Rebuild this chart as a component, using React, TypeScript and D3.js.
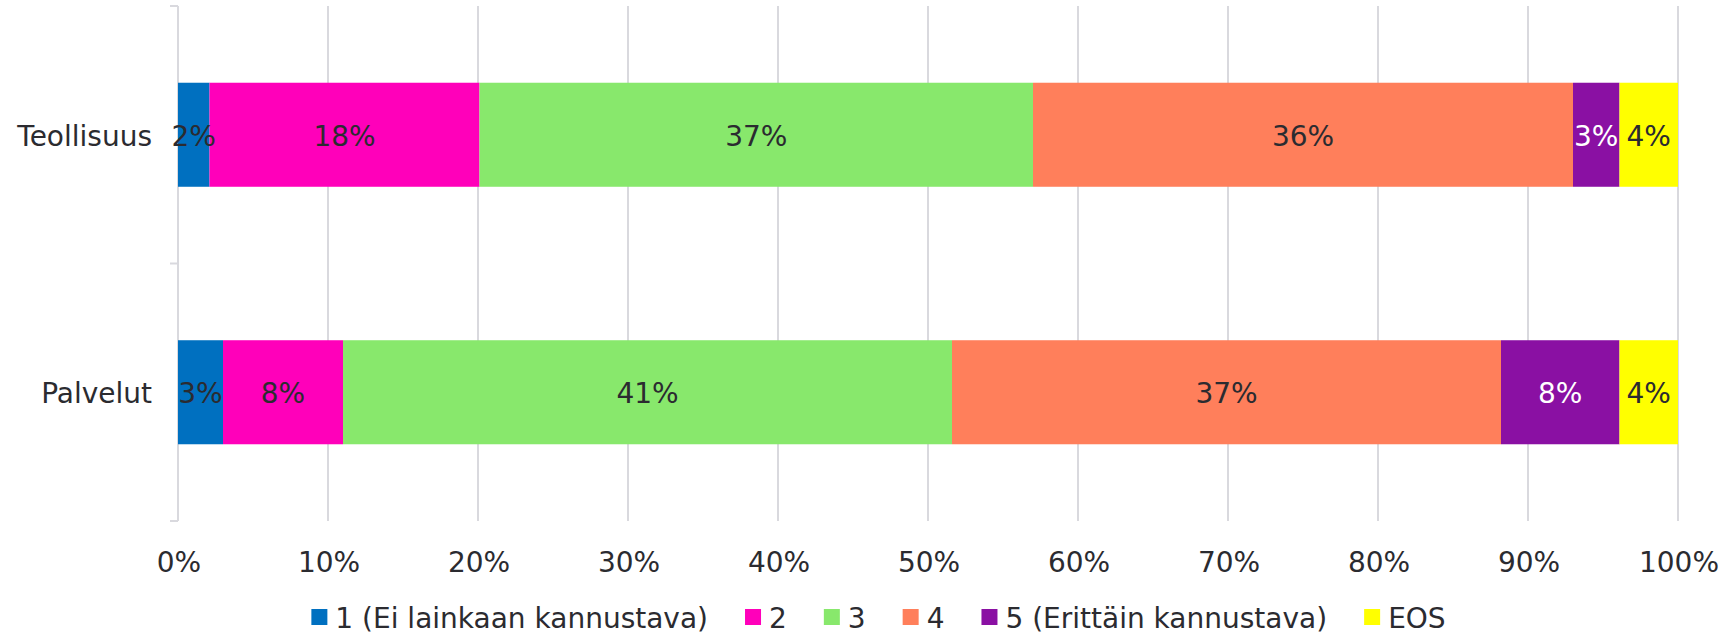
import React, { useMemo } from "react";
import * as d3 from "d3";

const categories = ["Teollisuus", "Palvelut"];
const seriesNames = ["1 (Ei lainkaan kannustava)", "2", "3", "4", "5 (Erittäin kannustava)", "EOS"];
const seriesColors = ["#0070C0", "#FF00BA", "#88E86C", "#FF7F5B", "#8A10A3", "#FFFF00"];
const labelColors = ["#2b2b30", "#2b2b30", "#2b2b30", "#2b2b30", "#ffffff", "#2b2b30"];
// values per series: [Teollisuus, Palvelut]
const s1 = [2.1, 3.0];
const s2 = [18.0, 8.0];
const s3 = [36.9, 40.6];
const s4 = [36.0, 36.6];
const s5 = [3.1, 7.9];
const sEOS = [3.9, 3.9];
const seriesValues = [s1, s2, s3, s4, s5, sEOS];
const xTicks = [0, 10, 20, 30, 40, 50, 60, 70, 80, 90, 100];

const W = 1736;
const H = 635;
const FONT = "'DejaVu Sans', Verdana, sans-serif";
const FS = 28;
const TEXT = "#2b2b30";
const GRID = "#d9d9de";

function measure(text: string): number {
  const c = document.createElement("canvas");
  const ctx = c.getContext("2d");
  if (!ctx) return text.length * FS * 0.6;
  ctx.font = `${FS}px 'DejaVu Sans'`;
  return ctx.measureText(text).width;
}

export default function App() {
  const x = d3.scaleLinear().domain([0, 100]).range([178, 1678]);
  const y = d3
    .scaleBand<string>()
    .domain(categories)
    .range([6, 521])
    .paddingInner(0.596)
    .paddingOuter(0.298);

  const rows = categories.map((cat, ci) => {
    const obj: Record<string, number | string> = { cat };
    seriesNames.forEach((s, si) => (obj[s] = seriesValues[si][ci]));
    return obj;
  });
  const stack = d3.stack<Record<string, number | string>>().keys(seriesNames)(rows as any);

  const legend = useMemo(() => {
    const sq = 16;
    const gapText = 8;
    const gapItem = 37;
    const widths = seriesNames.map((n) => measure(n));
    const total =
      widths.reduce((a, b) => a + b, 0) + seriesNames.length * (sq + gapText) + (seriesNames.length - 1) * gapItem;
    let cx = 878.5 - total / 2;
    return seriesNames.map((n, i) => {
      const item = { name: n, x: cx, color: seriesColors[i] };
      cx += sq + gapText + widths[i] + gapItem;
      return item;
    });
  }, []);

  const yTickPositions = [6, 6 + y.step(), 521];

  return (
    <div style={{ position: "absolute", left: 0, top: 0 }}>
      <svg width={W} height={H} style={{ display: "block", fontFamily: FONT }}>
        <rect width={W} height={H} fill="#ffffff" />
        {xTicks.slice(1).map((t) => (
          <line key={t} x1={x(t)} x2={x(t)} y1={6} y2={521} stroke={GRID} strokeWidth={2} />
        ))}
        <line x1={x(0)} x2={x(0)} y1={6} y2={521} stroke={GRID} strokeWidth={2} />
        {yTickPositions.map((p, i) => (
          <line key={i} x1={170} x2={x(0)} y1={p} y2={p} stroke={GRID} strokeWidth={2} />
        ))}
        {stack.map((layer, si) =>
          layer.map((d, ci) => (
            <rect
              key={`${si}-${ci}`}
              x={x(d[0])}
              width={x(d[1]) - x(d[0])}
              y={y(categories[ci])}
              height={y.bandwidth()}
              fill={seriesColors[si]}
            />
          ))
        )}
        {stack.map((layer, si) =>
          layer.map((d, ci) => (
            <text
              key={`l-${si}-${ci}`}
              x={(x(d[0]) + x(d[1])) / 2}
              y={(y(categories[ci]) as number) + y.bandwidth() / 2}
              dy="0.4em"
              textAnchor="middle"
              fontSize={FS}
              fill={labelColors[si]}
            >
              {`${Math.round(d[1] - d[0])}%`}
            </text>
          ))
        )}
        {categories.map((c) => (
          <text
            key={c}
            x={152}
            y={(y(c) as number) + y.bandwidth() / 2}
            dy="0.4em"
            textAnchor="end"
            fontSize={FS}
            fill={TEXT}
          >
            {c}
          </text>
        ))}
        {xTicks.map((t) => (
          <text key={`t${t}`} x={x(t) + 1} y={571.5} textAnchor="middle" fontSize={FS} fill={TEXT}>
            {`${t}%`}
          </text>
        ))}
        {legend.map((l) => (
          <g key={l.name}>
            <rect x={l.x} y={609} width={16} height={16} fill={l.color} />
            <text x={l.x + 24} y={628} fontSize={FS} fill={TEXT}>
              {l.name}
            </text>
          </g>
        ))}
      </svg>
    </div>
  );
}
